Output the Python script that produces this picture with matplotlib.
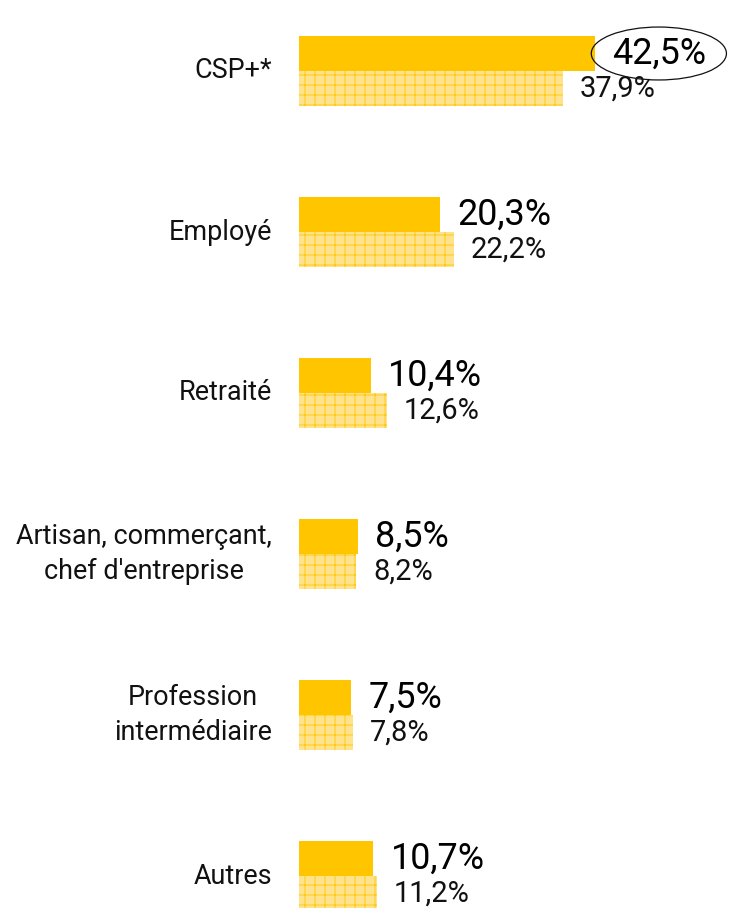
import matplotlib
matplotlib.use("Agg")
import matplotlib.pyplot as plt

DPI = 60
W_PX, H_PX = 731, 908

categories = [
    "CSP+*",
    "Employé",
    "Retraité",
    "Artisan, commerçant,\nchef d'entreprise",
    "Profession\nintermédiaire",
    "Autres",
]
values_top = [42.5, 20.3, 10.4, 8.5, 7.5, 10.7]
values_bottom = [37.9, 22.2, 12.6, 8.2, 7.8, 11.2]

YELLOW = "#FFC600"
LIGHT = "#FFE38C"


def px(v):
    """pixels -> points at the figure dpi"""
    return v * 72 / DPI


def fmt(v):
    return f"{v:.1f}".replace(".", ",") + "%"


plt.rcParams["font.family"] = ["Roboto", "DejaVu Sans"]
plt.rcParams["hatch.linewidth"] = 1.0

fig = plt.figure(figsize=(W_PX / DPI, H_PX / DPI), dpi=DPI)
ax = fig.add_axes([0, 0, 1, 1])

# scale: 6.96 px per percent, bars start at x=299 px; 161 px per group
x_per_px = 1 / 6.96
ax.set_xlim(-299 * x_per_px, (W_PX - 299) * x_per_px)
ax.set_ylim((H_PX - 71) / 161, -71 / 161)
bar_h = 35 / 161

ys = list(range(len(categories)))
top_y = [y - bar_h / 2 for y in ys]
bot_y = [y + bar_h / 2 for y in ys]

ax.barh(top_y, values_top, height=bar_h, color=YELLOW, linewidth=0)
ax.barh(bot_y, values_bottom, height=bar_h, color=LIGHT, edgecolor=YELLOW,
        linewidth=0, hatch="+")

for i, cat in enumerate(categories):
    ax.annotate(cat, (0, ys[i]), xytext=(px(-27), 0), textcoords="offset points",
                ha="right", va="center", multialignment="center",
                fontsize=px(27), linespacing=1.42, color="#111111")
    kw = {}
    if i == 0:
        kw["bbox"] = dict(boxstyle="ellipse,pad=0.02", fc="none", ec="#111111", lw=1.5)
    ax.annotate(fmt(values_top[i]), (values_top[i], top_y[i]),
                xytext=(px(17), 0), textcoords="offset points",
                ha="left", va="center", fontsize=px(36), fontweight="normal",
                color="#000000", **kw)
    ax.annotate(fmt(values_bottom[i]), (values_bottom[i], bot_y[i]),
                xytext=(px(17), 0), textcoords="offset points",
                ha="left", va="center", fontsize=px(29), color="#111111")

ax.axis("off")
fig.savefig("out.png", dpi=DPI, facecolor="white")
